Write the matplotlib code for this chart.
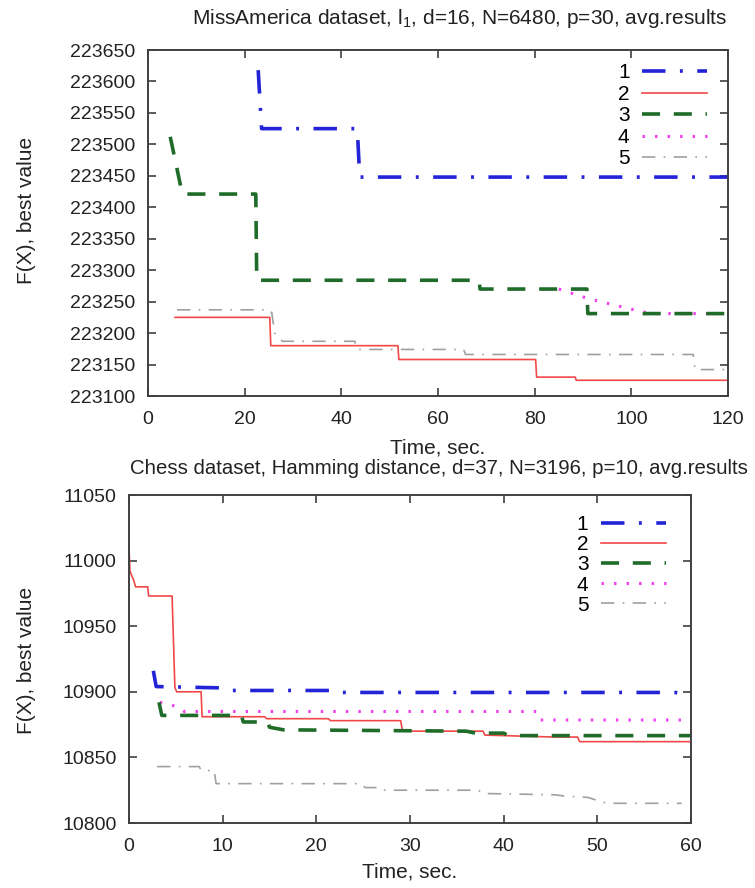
import matplotlib
matplotlib.use("Agg")
import matplotlib.pyplot as plt

plt.rcParams['font.family'] = ['Liberation Sans', 'DejaVu Sans']
plt.rcParams['mathtext.fontset'] = 'custom'
plt.rcParams['mathtext.rm'] = 'Liberation Sans'
plt.rcParams['mathtext.it'] = 'Liberation Sans'

# MissAmerica, l1, p=30 (top)
t1_top = [22.8, 23.5, 43.3, 43.8, 120]
f1_top = [223618, 223525, 223525, 223448, 223448]
t2_top = [5.6, 25.2, 25.4, 51.7, 51.9, 80.2, 80.4, 88.4, 88.6, 120]
f2_top = [223225, 223225, 223180, 223180, 223158, 223158, 223130, 223130, 223125, 223125]
t3_top = [4.6, 7.1, 22.3, 22.5, 68.5, 68.7, 90.8, 91.0, 120]
f3_top = [223512, 223421, 223421, 223284, 223284, 223270, 223270, 223231, 223231]
t4_top = [85.0, 91.0, 100.0, 104.0, 120]
f4_top = [223270, 223255, 223238, 223231, 223231]
t5_top = [6.0, 24.7, 25.0, 25.6, 26.2, 27.8, 42.8, 43.2, 65.3, 65.7, 112.8, 113.2, 120]
f5_top = [223237, 223237, 223233, 223233, 223200, 223187, 223187, 223174, 223174, 223166, 223166, 223142, 223142]

# Chess, Hamming, p=10 (bottom)
t1_bot = [2.6, 2.9, 9.8, 10.6, 22.3, 22.7, 58.3, 59.0, 60]
f1_bot = [10916, 10904, 10903, 10901, 10901, 10899.5, 10899.5, 10898.5, 10899.5]
t2_bot = [0, 0.1, 0.5, 0.7, 2.0, 2.1, 4.6, 4.9, 5.1, 7.7, 7.8, 14.5, 14.7, 21.3, 21.5,
          29.0, 29.2, 37.8, 38.0, 45.5, 47.9, 48.1, 60]
f2_bot = [11010, 10992, 10985, 10980, 10980, 10973, 10973, 10903, 10900, 10900, 10881, 10881,
          10879.5, 10879.5, 10878, 10878, 10870, 10870, 10867, 10865.5, 10865.5, 10862, 10862]
t3_bot = [3.2, 3.5, 12.0, 12.2, 14.8, 15.0, 16.5, 36.0, 37.0, 40.0, 40.5, 60]
f3_bot = [10892, 10882, 10882, 10877, 10877, 10873, 10871, 10870, 10868.5, 10868.5, 10866.6, 10866.6]
t4_bot = [3.3, 5.0, 5.9, 43.5, 43.9, 60]
f4_bot = [10892, 10889, 10885, 10885, 10878.5, 10878.5]
t5_bot = [3.0, 7.5, 7.7, 9.1, 9.3, 24.8, 25.2, 27.0, 27.3, 37.3, 37.8, 45.5, 46.5, 49.0,
          50.5, 51.1, 59.0]
f5_bot = [10843, 10843, 10840, 10840, 10830, 10830, 10827, 10827, 10825, 10825, 10822.5,
          10821.5, 10820.5, 10819.5, 10816, 10815, 10815]

labels = ['1', '2', '3', '4', '5']
colors = ['#2323d8', '#f04848', '#1f6b2a', '#f040f0', '#a0a0a0']
styles = [dict(lw=2.6, ls=(0, (6.5, 4, 0.8, 4))),
          dict(lw=1.2, ls='-'),
          dict(lw=2.6, ls=(0, (5, 3.8))),
          dict(lw=2.2, ls=(0, (0.8, 3.3))),
          dict(lw=1.2, ls=(0, (8, 5, 1, 5)))]

W, H = 755, 888
fig = plt.figure(figsize=(W / 100, H / 100), dpi=100)


def box(l, t, r, b):
    return [l / W, 1 - b / H, (r - l) / W, (b - t) / H]


def style_ax(ax):
    for s in ax.spines.values():
        s.set_color('#404040')
        s.set_linewidth(1.4)
    ax.tick_params(direction='in', top=True, right=True, length=6, width=1.2,
                   color='#404040', labelsize=14, labelcolor='#222222')
    ax.tick_params(axis='y', pad=9)
    ax.tick_params(axis='x', pad=11)


order = [3, 0, 1, 2, 4]

ax1 = fig.add_axes(box(148, 50, 728, 396))
tops = [(t1_top, f1_top), (t2_top, f2_top), (t3_top, f3_top), (t4_top, f4_top), (t5_top, f5_top)]
lines = {}
for i in order:
    t, f = tops[i]
    lines[i], = ax1.plot(t, f, color=colors[i], label=labels[i], **styles[i])
ax1.set_xlim(0, 120)
ax1.set_ylim(223100, 223650)
ax1.set_xticks(range(0, 121, 20))
ax1.set_yticks(range(223100, 223651, 50))
style_ax(ax1)
ax1.legend([lines[i] for i in range(5)], labels, loc='upper right', frameon=False,
           markerfirst=False, handlelength=3.1, handletextpad=0.6, labelspacing=0.12,
           fontsize=15, borderpad=0, bbox_to_anchor=((717 - 148) / 580, 1 - 3 / 346))

ax2 = fig.add_axes(box(129, 495, 691, 823))
bots = [(t1_bot, f1_bot), (t2_bot, f2_bot), (t3_bot, f3_bot), (t4_bot, f4_bot), (t5_bot, f5_bot)]
lines2 = {}
for i in order:
    t, f = bots[i]
    lines2[i], = ax2.plot(t, f, color=colors[i], label=labels[i], **styles[i])
ax2.set_xlim(0, 60)
ax2.set_ylim(10800, 11050)
ax2.set_xticks(range(0, 61, 10))
ax2.set_yticks(range(10800, 11051, 50))
style_ax(ax2)
ax2.legend([lines2[i] for i in range(5)], labels, loc='upper right', frameon=False,
           markerfirst=False, handlelength=3.1, handletextpad=0.6, labelspacing=0.05,
           fontsize=15, borderpad=0, bbox_to_anchor=((676 - 129) / 562, 1 - 10 / 328))

fig.text(460 / W, 1 - 18 / H, r'MissAmerica dataset, l$_1$, d=16, N=6480, p=30, avg.results',
         ha='center', va='center', fontsize=15, color='#222222')
fig.text(439 / W, 1 - 468 / H, 'Chess dataset, Hamming distance, d=37, N=3196, p=10, avg.results',
         ha='center', va='center', fontsize=14.7, color='#222222')
fig.text(438 / W, 1 - 448 / H, 'Time, sec.', ha='center', va='center', fontsize=15, color='#222222')
fig.text(410 / W, 1 - 872 / H, 'Time, sec.', ha='center', va='center', fontsize=15, color='#222222')
fig.text(27 / W, 1 - 210 / H, 'F(X), best value', ha='center', va='center', rotation=90,
         fontsize=15, color='#222222')
fig.text(27 / W, 1 - 660 / H, 'F(X), best value', ha='center', va='center', rotation=90,
         fontsize=15, color='#222222')

fig.savefig('out.png', dpi=100, facecolor='white')
